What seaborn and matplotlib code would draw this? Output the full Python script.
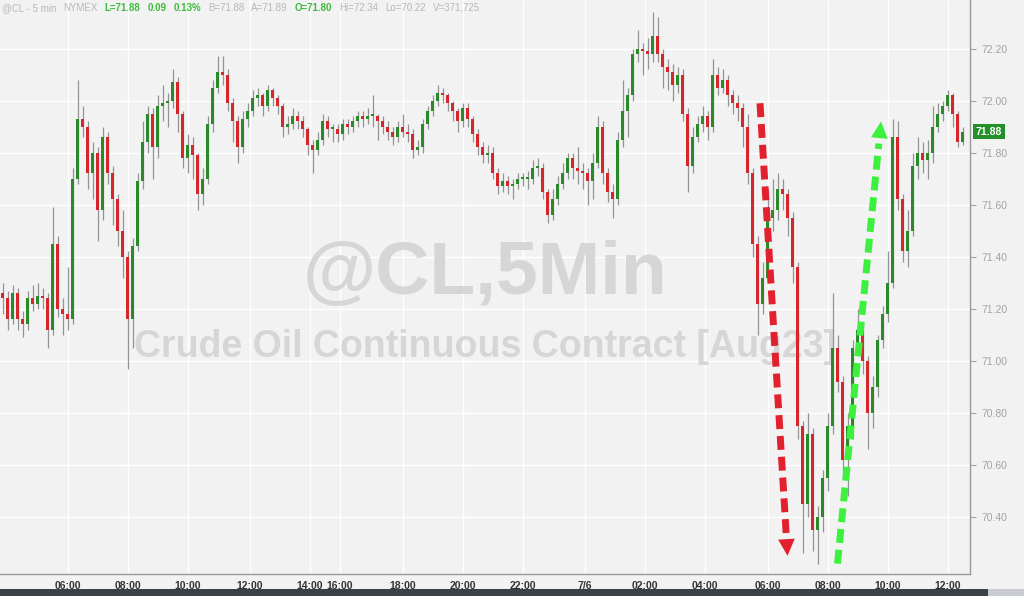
import numpy as np
import pandas as pd
import matplotlib.pyplot as plt
import matplotlib.transforms as mtransforms
from matplotlib.patches import Rectangle
import seaborn as sns

# ======================================
# DATA (10-min bars)
# ======================================
first_open = 71.26

close = [
    71.24, 71.16, 71.26, 71.16, 71.14, 71.24, 71.22, 71.25, 71.24, 71.12,
    71.45, 71.20, 71.18, 71.16, 71.70, 71.93, 71.90, 71.72, 71.80, 71.58,
    71.86, 71.72, 71.62, 71.50, 71.40, 71.16, 71.44, 71.69, 71.84, 71.95,
    71.82, 71.98, 71.99, 72.00, 72.07, 71.95, 71.78, 71.83, 71.79, 71.64,
    71.70, 71.91, 72.05, 72.11, 72.10, 71.99, 71.92, 71.82, 71.93, 71.96,
    72.01, 72.02, 71.98, 72.04, 72.01, 71.98, 71.90, 71.91, 71.94, 71.92,
    71.89, 71.83, 71.81, 71.85, 71.92, 71.89, 71.89, 71.87, 71.91, 71.90,
    71.92, 71.94, 71.93, 71.94, 71.94, 71.92, 71.90, 71.88, 71.86, 71.90,
    71.88, 71.87, 71.81, 71.82, 71.91, 71.96, 72.00, 72.03, 72.02, 71.99,
    71.96, 71.92, 71.97, 71.93, 71.87, 71.82, 71.79, 71.80, 71.72, 71.67,
    71.69, 71.67, 71.68, 71.70, 71.70, 71.70, 71.74, 71.74, 71.65, 71.56,
    71.62, 71.68, 71.72, 71.78, 71.74, 71.73, 71.72, 71.69, 71.76, 71.90,
    71.72, 71.65, 71.62, 71.85, 71.96, 72.02, 72.18, 72.20, 72.19, 72.18,
    72.25, 72.18, 72.13, 72.11, 72.06, 72.10, 71.95, 71.75, 71.86, 71.91,
    71.94, 71.90, 72.10, 72.05, 72.08, 72.02, 71.99, 71.97, 71.90, 71.72,
    71.45, 71.22, 71.32, 71.55, 71.58, 71.66, 71.64, 71.55, 71.36, 70.75,
    70.45, 70.72, 70.35, 70.40, 70.55, 70.75, 71.05, 70.92, 70.62, 70.75,
    71.05, 71.12, 71.00, 70.80, 70.90, 71.08, 71.18, 71.30, 71.86, 71.62,
    71.42, 71.50, 71.75, 71.80, 71.77, 71.80, 71.90, 71.95, 71.98, 72.02,
    71.95, 71.84, 71.88,
]

high = [
    71.30, 71.27, 71.29, 71.28, 71.19, 71.27, 71.29, 71.30, 71.28, 71.26,
    71.59, 71.48, 71.24, 71.36, 71.74, 72.08, 71.98, 71.92, 71.84, 71.82,
    71.90, 71.88, 71.75, 71.64, 71.58, 71.42, 71.47, 71.72, 71.92, 71.98,
    71.97, 72.02, 72.06, 72.03, 72.12, 72.09, 71.96, 71.87, 71.86, 71.80,
    71.74, 71.94, 72.08, 72.17, 72.17, 72.12, 72.01, 71.94, 71.96, 71.99,
    72.04, 72.05, 72.03, 72.06, 72.05, 72.02, 71.99, 71.94, 71.97, 71.96,
    71.94, 71.90, 71.85, 71.88, 71.95, 71.94, 71.91, 71.91, 71.93, 71.93,
    71.94, 71.96, 71.96, 71.97, 72.02, 71.95, 71.94, 71.92, 71.90, 71.92,
    71.95, 71.91, 71.89, 71.85, 71.93, 71.98, 72.02, 72.06, 72.05, 72.03,
    72.00, 71.97, 71.99, 71.99, 71.94, 71.89, 71.84, 71.83, 71.82, 71.74,
    71.72, 71.71, 71.70, 71.72, 71.72, 71.73, 71.77, 71.78, 71.76, 71.66,
    71.66, 71.71, 71.76, 71.80, 71.80, 71.82, 71.76, 71.74, 71.80, 71.94,
    71.92, 71.74, 71.68, 71.88, 72.08, 72.05, 72.20, 72.27, 72.22, 72.24,
    72.34, 72.32, 72.20, 72.16, 72.14, 72.13, 72.12, 71.97, 71.90, 71.94,
    71.98, 71.96, 72.16, 72.13, 72.12, 72.10, 72.04, 72.02, 71.99, 71.95,
    71.74, 71.48, 71.38, 71.66, 71.70, 71.72, 71.70, 71.66, 71.57, 71.38,
    70.77, 70.80, 70.74, 70.44, 70.58, 70.80, 71.26, 71.10, 70.94, 70.80,
    71.08, 71.20, 71.14, 71.02, 70.94, 71.10, 71.21, 71.42, 71.93, 71.92,
    71.64, 71.58, 71.80, 71.86, 71.84, 71.85, 71.98, 71.99, 72.00, 72.04,
    72.03, 71.96, 71.90,
]

low = [
    71.18, 71.12, 71.14, 71.12, 71.09, 71.12, 71.19, 71.20, 71.20, 71.05,
    71.10, 71.17, 71.10, 71.12, 71.14, 71.68, 71.86, 71.66, 71.62, 71.46,
    71.54, 71.68, 71.52, 71.44, 71.32, 70.97, 71.05, 71.42, 71.66, 71.80,
    71.70, 71.78, 71.92, 71.90, 71.97, 71.88, 71.74, 71.72, 71.70, 71.58,
    71.60, 71.68, 71.88, 72.03, 72.06, 71.96, 71.84, 71.76, 71.80, 71.90,
    71.94, 71.98, 71.94, 71.96, 71.98, 71.95, 71.86, 71.87, 71.89, 71.89,
    71.86, 71.79, 71.72, 71.79, 71.83, 71.86, 71.84, 71.84, 71.85, 71.87,
    71.88, 71.90, 71.90, 71.91, 71.90, 71.85, 71.87, 71.85, 71.83, 71.84,
    71.86, 71.84, 71.78, 71.79, 71.80, 71.89, 71.94, 71.98, 71.99, 71.96,
    71.92, 71.88, 71.90, 71.90, 71.84, 71.79, 71.76, 71.76, 71.70, 71.64,
    71.65, 71.64, 71.62, 71.66, 71.67, 71.66, 71.68, 71.71, 71.62, 71.53,
    71.54, 71.60, 71.66, 71.70, 71.70, 71.68, 71.66, 71.60, 71.62, 71.74,
    71.68, 71.61, 71.55, 71.60, 71.82, 71.86, 72.00, 72.15, 72.10, 72.12,
    72.15, 72.15, 72.05, 72.04, 72.00, 72.03, 71.92, 71.65, 71.72, 71.84,
    71.88, 71.85, 71.88, 72.02, 72.03, 71.98, 71.95, 71.92, 71.82, 71.68,
    71.40, 71.10, 71.18, 71.30, 71.50, 71.54, 71.58, 71.48, 71.30, 70.70,
    70.26, 70.40, 70.27, 70.22, 70.34, 70.50, 70.72, 70.88, 70.55, 70.48,
    70.70, 71.02, 70.95, 70.66, 70.74, 70.86, 71.05, 71.15, 71.28, 71.58,
    71.38, 71.36, 71.48, 71.70, 71.72, 71.70, 71.76, 71.88, 71.92, 71.96,
    71.90, 71.82, 71.83,
]

tick_pos = [13, 25, 37, 49.5, 61.5, 67.5, 80, 92, 104, 116.5, 128.5, 140.5, 153, 165, 177, 189]
tick_lab = ["06:00", "08:00", "10:00", "12:00", "14:00", "16:00", "18:00", "20:00",
            "22:00", "7/6", "02:00", "04:00", "06:00", "08:00", "10:00", "12:00"]
price_ticks = [70.40, 70.60, 70.80, 71.00, 71.20, 71.40, 71.60, 71.80, 72.00, 72.20]
last_price = 71.88

# arrow annotations: (bar index, price) start -> end
red_arrow = [(151.5, 71.99), (157.0, 70.25)]
green_arrow = [(167.0, 70.22), (175.7, 71.92)]

header = [
    ("@CL - 5 min", "#b8b8b8"), ("NYMEX", "#b8b8b8"), ("L=71.88", "#3dbb3d"),
    ("0.09", "#3dbb3d"), ("0.13%", "#3dbb3d"), ("B=71.88", "#b8b8b8"),
    ("A=71.89", "#b8b8b8"), ("O=71.80", "#3dbb3d"), ("Hi=72.34", "#b8b8b8"),
    ("Lo=70.22", "#b8b8b8"), ("V=371,725", "#b8b8b8"),
]

# ======================================
# TABLE
# ======================================
df = pd.DataFrame({"close": close, "high": high, "low": low})
df["open"] = df["close"].shift(1).fillna(first_open)
df["up"] = df["close"] >= df["open"]
df["body_lo"] = df[["open", "close"]].min(axis=1)
df["body_h"] = (df["close"] - df["open"]).abs().clip(lower=0.008)

# ======================================
# STYLE
# ======================================
BG = "#f2f2f2"
sns.set_style("darkgrid", {"axes.facecolor": BG, "figure.facecolor": BG,
                           "grid.color": "white", "grid.linewidth": 1.0})
plt.rcParams["font.family"] = ["Liberation Sans", "DejaVu Sans"]

W, H = 1024, 596
fig = plt.figure(figsize=(W / 100, H / 100), dpi=100)
ax = fig.add_axes([0, 22 / H, 970 / W, 574 / H])

# watermark
ax.text(0.5, 0.487, "@CL,5Min", transform=ax.transAxes, ha="center", va="baseline",
        fontsize=54, fontweight="bold", color="#d6d6d6", zorder=1)
ax.text(0.5, 0.378, "Crude Oil Continuous Contract [Aug23]", transform=ax.transAxes,
        ha="center", va="baseline", fontsize=27, fontweight="bold", color="#d6d6d6", zorder=1)

# candles
ax.vlines(df.index, df["low"], df["high"], color="#939393", lw=0.9, zorder=2)
colors = np.where(df["up"], "#2a8a2a", "#d6262b")
ax.bar(df.index, df["body_h"], bottom=df["body_lo"], width=0.72, color=colors,
       linewidth=0, zorder=3)


def dashed_arrow(p0, p1, color):
    (x0, y0), (x1, y1) = p0, p1
    # stop the dashed shaft a little before the tip, the head covers the rest
    xb, yb = x0 + (x1 - x0) * 0.95, y0 + (y1 - y0) * 0.95
    ax.plot([x0, xb], [y0, yb], color=color, lw=5, dashes=(2.0, 1.0),
            solid_capstyle="butt", dash_capstyle="butt", zorder=4)
    xs, ys = x0 + (x1 - x0) * 0.90, y0 + (y1 - y0) * 0.90
    ax.annotate("", xy=(x1, y1), xytext=(xs, ys),
                arrowprops=dict(arrowstyle="-|>,head_length=0.6,head_width=0.3",
                                mutation_scale=20, color=color, lw=0,
                                shrinkA=0, shrinkB=0), zorder=4)


dashed_arrow(red_arrow[0], red_arrow[1], "#e3202d")
dashed_arrow(green_arrow[0], green_arrow[1], "#3ef03e")

# axes
ax.set_xlim(-0.5, 193.5)
ax.set_ylim(70.18, 72.387)
ax.set_xticks(tick_pos)
ax.set_xticklabels(tick_lab)
ax.set_yticks(price_ticks)
ax.set_yticklabels([f"{p:.2f}" for p in price_ticks])
ax.yaxis.tick_right()
ax.tick_params(axis="y", direction="out", length=4, width=0.8, pad=4,
               colors="#a3a3a3", labelsize=7.5)
ax.tick_params(axis="x", direction="out", length=3, width=0.8, pad=2,
               colors="#8a8a8a", labelsize=7.5, labelcolor="#333333")
for lab in ax.get_xticklabels():
    lab.set_fontweight("bold")
ax.grid(True, color="white", lw=1.0, zorder=0)
ax.set_axisbelow(True)
for side in ["top", "left"]:
    ax.spines[side].set_visible(False)
for side in ["right", "bottom"]:
    ax.spines[side].set_visible(True)
    ax.spines[side].set_color("#9a9a9a")
    ax.spines[side].set_linewidth(1.0)

# last price tag
trans = mtransforms.blended_transform_factory(ax.transAxes, ax.transData)
ax.text(1.006, last_price, "71.88", transform=trans, ha="left", va="center",
        fontsize=7.5, fontweight="bold", color="white", zorder=6, clip_on=False,
        bbox=dict(boxstyle="square,pad=0.25", fc="#23902a", ec="none"))

# header line, pieces chained one after another
renderer = fig.canvas.get_renderer()
hx = 2
for txt, col in header:
    t = fig.text(hx / W, 1 - 8 / H, txt, ha="left", va="center", fontsize=7,
                 color=col, fontweight="bold" if col != "#b8b8b8" else "normal")
    hx += t.get_window_extent(renderer).width + 7

# bottom bar
fig.patches.append(Rectangle((0, 0), 1, 7 / H, transform=fig.transFigure,
                             facecolor="#3b4049", edgecolor="none", zorder=0))
fig.patches.append(Rectangle((988 / W, 0), 36 / W, 7 / H, transform=fig.transFigure,
                             facecolor="#c9cdd3", edgecolor="none", zorder=1))

fig.savefig("out.png", dpi=100, facecolor=BG)
